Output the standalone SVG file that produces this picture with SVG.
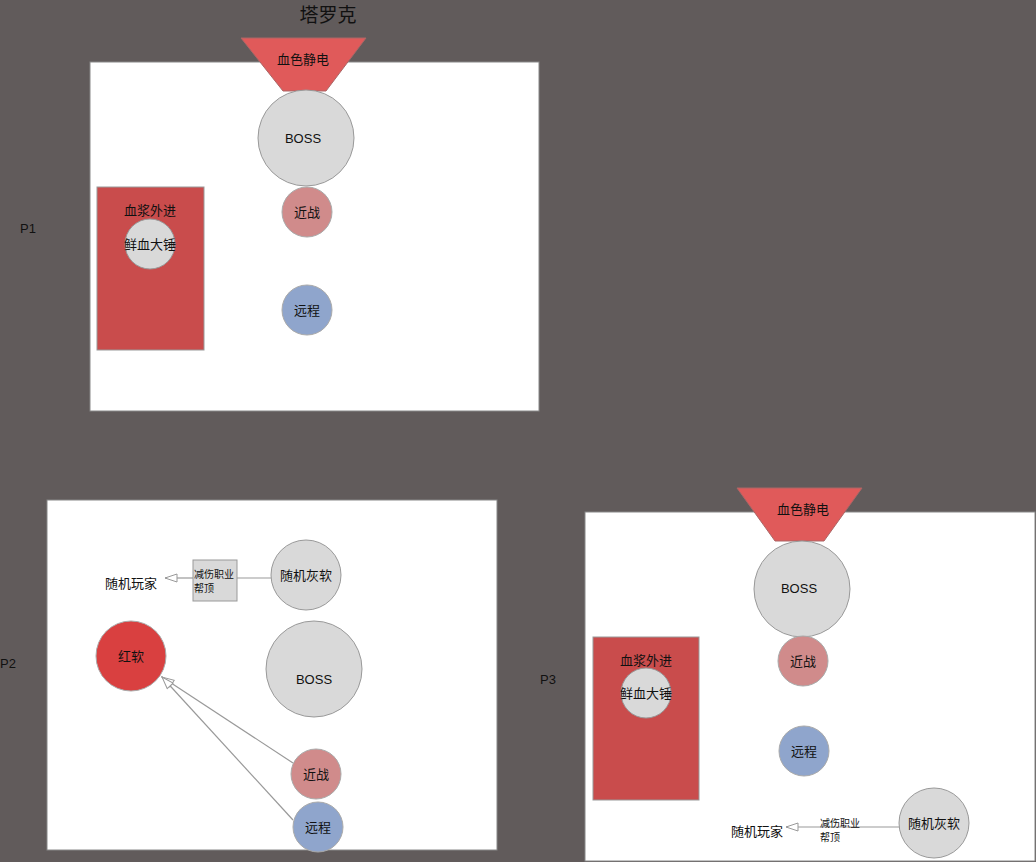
<svg xmlns="http://www.w3.org/2000/svg" width="1036" height="862" viewBox="0 0 1036 862">
<defs>
<marker id="arr" markerWidth="14" markerHeight="10" refX="13" refY="5" orient="auto" markerUnits="userSpaceOnUse">
<path d="M1,1 L13,5 L1,9 Z" fill="#fff" stroke="#999" stroke-width="1"/>
</marker>
</defs>
<style>
text{font-family:"Liberation Sans","Noto Sans CJK SC",sans-serif;fill:#111;}
.panel{fill:#fff;stroke:#888;stroke-width:1;}
.trap{fill:#e05a5a;stroke:#a66;stroke-width:1;}
.gray{fill:#d9d9d9;stroke:#999;stroke-width:1;}
.melee{fill:#d08b8b;stroke:#aaa;stroke-width:1;}
.ranged{fill:#8fa5cc;stroke:#aaa;stroke-width:1;}
.redbox{fill:#c94c4c;stroke:#999;stroke-width:1;}
.redsoft{fill:#d94040;stroke:#aaa;stroke-width:1;}
.t13{font-size:13px;text-anchor:middle;}
.small{font-size:10px;}
.lbl{font-size:13px;}
.conn{fill:none;stroke:#999;stroke-width:1.2;}
</style>
<rect x="0" y="0" width="1036" height="862" fill="#615b5b"/>
<text x="328" y="22" class="t13" style="font-size:19px">塔罗克</text>
<text x="20" y="233" class="lbl">P1</text>
<text x="0" y="668" class="lbl">P2</text>
<text x="540" y="684" class="lbl">P3</text>

<g id="panel-p1"><rect class="panel" x="90" y="62" width="449" height="349"/></g>
<g id="panel-p2"><rect class="panel" x="47" y="500" width="450" height="350"/></g>
<g id="panel-p3"><rect class="panel" x="585" y="512" width="450" height="349"/></g>

<g id="connectors">
<line class="conn" x1="271" y1="578" x2="237" y2="578"/>
<line class="conn" x1="193" y1="578" x2="165" y2="578" marker-end="url(#arr)"/>
<line class="conn" x1="293" y1="763" x2="162" y2="677" marker-end="url(#arr)"/>
<line class="conn" x1="293" y1="820" x2="162" y2="677" marker-end="url(#arr)"/>
<line class="conn" x1="899" y1="827" x2="786" y2="827" marker-end="url(#arr)"/>
</g>

<!-- P1 -->
<g id="p1-static"><polygon class="trap" points="241,38 366,38 326,91 283,91"/><text x="303" y="64" class="t13">血色静电</text></g>
<g id="p1-boss"><circle class="gray" cx="306" cy="138" r="48"/><text x="303" y="143" class="t13">BOSS</text></g>
<g id="p1-melee"><circle class="melee" cx="307" cy="212" r="25"/><text x="307" y="217" class="t13">近战</text></g>
<g id="p1-ranged"><circle class="ranged" cx="307" cy="310" r="25"/><text x="307" y="315" class="t13">远程</text></g>
<g id="p1-plasma"><rect class="redbox" x="97" y="187" width="107" height="163"/><text x="150" y="215" class="t13">血浆外进</text></g>
<g id="p1-hammer"><circle class="gray" cx="150" cy="244" r="25"/><text x="150" y="249" class="t13">鲜血大锤</text></g>

<!-- P2 -->
<g id="p2-graysoft"><circle class="gray" cx="306" cy="575" r="35"/><text x="306" y="580" class="t13">随机灰软</text></g>
<g id="p2-tank"><rect class="gray" x="193" y="560" width="44" height="41"/><text x="194" y="578" class="small">减伤职业</text><text x="194" y="592" class="small">帮顶</text></g>
<g id="p2-player"><text x="131" y="588" class="t13">随机玩家</text></g>
<g id="p2-redsoft"><circle class="redsoft" cx="131" cy="656" r="35"/><text x="131" y="661" class="t13">红软</text></g>
<g id="p2-boss"><circle class="gray" cx="314" cy="669" r="48"/><text x="314" y="684" class="t13">BOSS</text></g>
<g id="p2-melee"><circle class="melee" cx="316" cy="774" r="25"/><text x="316" y="779" class="t13">近战</text></g>
<g id="p2-ranged"><circle class="ranged" cx="318" cy="827" r="25"/><text x="318" y="832" class="t13">远程</text></g>

<!-- P3 -->
<g id="p3-static"><polygon class="trap" points="737,488 862,488 824,541 775,541"/><text x="803" y="514" class="t13">血色静电</text></g>
<g id="p3-boss"><circle class="gray" cx="802" cy="589" r="48"/><text x="799" y="593" class="t13">BOSS</text></g>
<g id="p3-melee"><circle class="melee" cx="803" cy="661" r="25"/><text x="803" y="666" class="t13">近战</text></g>
<g id="p3-ranged"><circle class="ranged" cx="804" cy="751" r="25"/><text x="804" y="756" class="t13">远程</text></g>
<g id="p3-plasma"><rect class="redbox" x="593" y="637" width="106" height="163"/><text x="646" y="665" class="t13">血浆外进</text></g>
<g id="p3-hammer"><circle class="gray" cx="646" cy="693" r="25"/><text x="646" y="698" class="t13">鲜血大锤</text></g>
<g id="p3-graysoft"><circle class="gray" cx="934" cy="823" r="35"/><text x="934" y="828" class="t13">随机灰软</text></g>
<g id="p3-tank"><text x="820" y="827" class="small">减伤职业</text><text x="820" y="841" class="small">帮顶</text></g>
<g id="p3-player"><text x="757" y="836" class="t13">随机玩家</text></g>
</svg>
